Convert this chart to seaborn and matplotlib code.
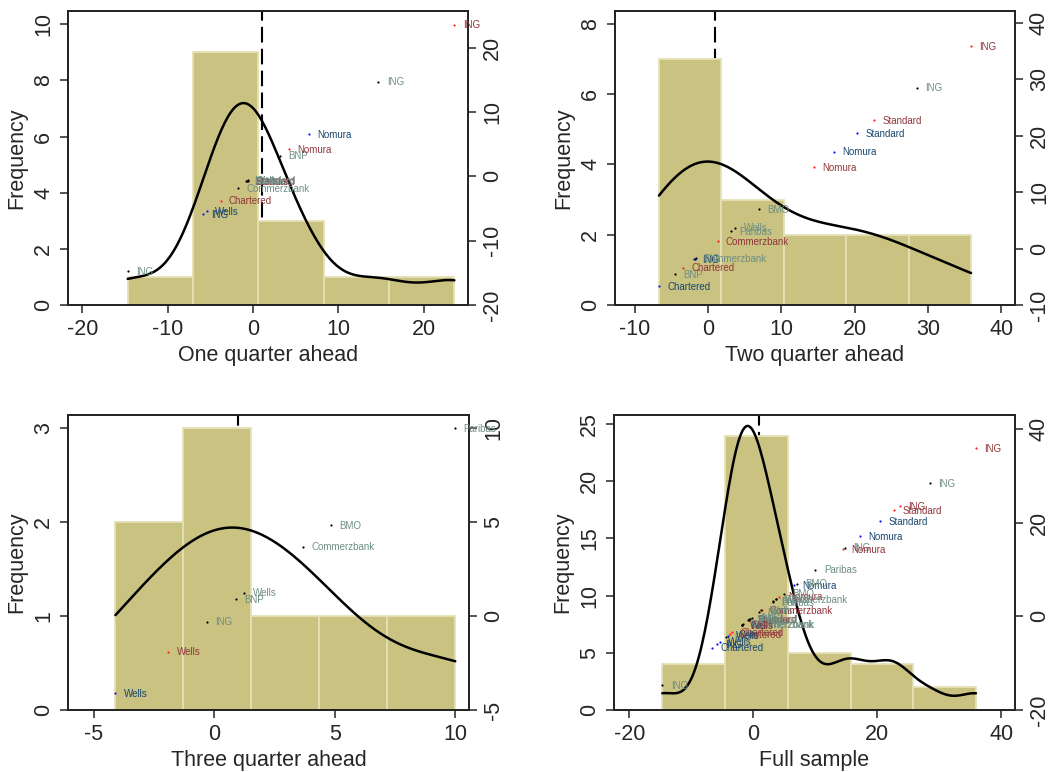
import numpy as np
import pandas as pd
import matplotlib
matplotlib.use("Agg")
import matplotlib.pyplot as plt
import seaborn as sns

# ---------------- data ----------------
# group A = blue markers / navy labels, B = red markers / maroon labels, C = black markers / teal labels
q1_value = [-14.7, -5.9, -5.4, -3.8, -1.8, -0.8, -0.75, -0.7, -0.65, -0.6, 3.2, 4.2, 6.6, 14.7, 23.6]
q1_bank = ["ING", "ING", "Wells", "Chartered", "Commerzbank", "BMO", "Paribas", "Standard",
           "Wells", "Standard", "BNP", "Nomura", "Nomura", "ING", "ING"]
q1_group = ["C", "A", "A", "B", "C", "C", "C", "B", "C", "C", "C", "B", "A", "C", "B"]

q2_value = [-6.7, -4.5, -3.4, -1.9, -1.8, -1.7, 1.3, 3.1, 3.7, 7.0, 14.4, 17.2, 20.4, 22.7, 28.5, 35.9]
q2_bank = ["Chartered", "BNP", "Chartered", "ING", "ING", "Commerzbank", "Commerzbank", "Paribas",
           "Wells", "BMO", "Nomura", "Nomura", "Standard", "Standard", "ING", "ING"]
q2_group = ["A", "C", "B", "A", "C", "C", "B", "C", "C", "C", "B", "A", "A", "B", "C", "B"]

q3_value = [-4.1, -1.9, -0.3, 0.9, 1.25, 3.7, 4.85, 10.0]
q3_bank = ["Wells", "Wells", "ING", "BNP", "Wells", "Commerzbank", "BMO", "Paribas"]
q3_group = ["A", "B", "C", "C", "C", "C", "C", "C"]

panel_titles = ["One quarter ahead", "Two quarter ahead", "Three quarter ahead", "Full sample"]
actual_value = [1.0, 0.9, 1.0, 0.9]

x_ticks = [[-20, -10, 0, 10, 20], [-10, 0, 10, 20, 30, 40], [-5, 0, 5, 10], [-20, 0, 20, 40]]
freq_ticks = [[0, 2, 4, 6, 8, 10], [0, 2, 4, 6, 8], [0, 1, 2, 3], [0, 5, 10, 15, 20, 25]]
right_ticks = [[-20, -10, 0, 10, 20], [-10, 0, 10, 20, 30, 40], [-5, 0, 5, 10], [-20, 0, 20, 40]]

# ---------------- style ----------------
sns.set_style("ticks")
plt.rcParams["font.family"] = ["Liberation Sans", "DejaVu Sans"]
plt.rcParams["axes.unicode_minus"] = False

BAR_COLOR = "#c9c280"
BAR_EDGE = "#e4e0b6"
MARK = {"A": "#1010ff", "B": "#ff2020", "C": "#000000"}
LABC = {"A": "#1a476f", "B": "#90353b", "C": "#6e8e84"}

frames = [
    pd.DataFrame({"value": q1_value, "bank": q1_bank, "group": q1_group}),
    pd.DataFrame({"value": q2_value, "bank": q2_bank, "group": q2_group}),
    pd.DataFrame({"value": q3_value, "bank": q3_bank, "group": q3_group}),
]
frames.append(pd.concat(frames, ignore_index=True))

positions = [
    [68 / 1048, 1 - 305 / 772, 400 / 1048, 294 / 772],
    [615 / 1048, 1 - 305 / 772, 400 / 1048, 294 / 772],
    [68 / 1048, 1 - 710 / 772, 401 / 1048, 295 / 772],
    [614 / 1048, 1 - 710 / 772, 401 / 1048, 295 / 772],
]
xlims = [(-21.7, 25.2), (-12.7, 41.9), (-6.07, 10.57), (-22.5, 42.2)]
ylims = [(0, 10.47), (0, 8.37), (0, 3.14), (0, 25.8)]
rlims = [(-20, 25.7), (-9.8, 42.1), (-5, 10.7), (-20, 43.0)]
bw_adj = [0.7, 1.0, 0.9, 0.56]

FS = 15.5

fig = plt.figure(figsize=(10.48, 7.72), dpi=100)
fig.patch.set_facecolor("white")

for i, df in enumerate(frames):
    ax = fig.add_axes(positions[i])
    sns.histplot(data=df, x="value", bins=5, kde=True, stat="count",
                 color=BAR_COLOR, alpha=1.0, edgecolor=BAR_EDGE, linewidth=1.3,
                 kde_kws={"bw_adjust": bw_adj[i]}, line_kws={"linewidth": 1.8},
                 ax=ax)
    for ln in ax.lines:
        ln.set_color("black")
        ln.set_zorder(3)
    ax.axvline(actual_value[i], color="black", lw=1.5, dashes=(7.5, 3), zorder=0.5)

    ax.set_xlim(*xlims[i])
    ax.set_ylim(*ylims[i])
    ax.set_xticks(x_ticks[i])
    ax.set_xticklabels([str(t) for t in x_ticks[i]], fontsize=FS)
    ax.set_yticks(freq_ticks[i])
    ax.set_yticklabels([str(t) for t in freq_ticks[i]], fontsize=FS, rotation=90, va="center")
    ax.set_xlabel(panel_titles[i], fontsize=FS, labelpad=4)
    ax.set_ylabel("Frequency", fontsize=FS, labelpad=4)
    ax.tick_params(direction="out", length=6, width=1.1, pad=4)
    for sp in ax.spines.values():
        sp.set_visible(True)
        sp.set_linewidth(1.2)
        sp.set_color("black")

    ax2 = ax.twinx()
    ax2.set_ylim(*rlims[i])
    for g in ["A", "B", "C"]:
        sub = df[df["group"] == g]
        ax2.scatter(sub["value"], sub["value"], s=2.5, color=MARK[g], linewidths=0, zorder=4)
    for _, row in df.iterrows():
        ax2.annotate(row["bank"], (row["value"], row["value"]), xytext=(6, -0.5),
                     textcoords="offset points", fontsize=7, color=LABC[row["group"]],
                     va="center", ha="left", zorder=5)
    ax2.set_yticks(right_ticks[i])
    ax2.set_yticklabels([str(t) for t in right_ticks[i]], fontsize=FS, rotation=90, va="center")
    ax2.tick_params(direction="out", length=6, width=1.1, pad=4)
    ax2.set_ylabel("")
    for sp in ax2.spines.values():
        sp.set_linewidth(1.2)

fig.savefig("out.png", dpi=100, facecolor="white")
